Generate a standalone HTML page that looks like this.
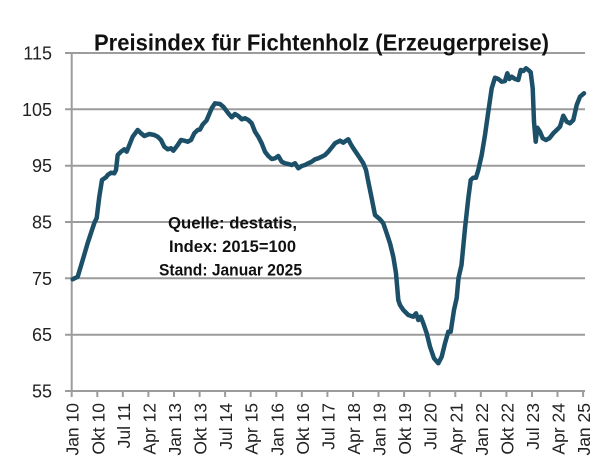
<!DOCTYPE html>
<html>
<head>
<meta charset="utf-8">
<style>
html,body{margin:0;padding:0;background:#fff;}
svg{display:block;}
text{font-family:"Liberation Sans",sans-serif;}
</style>
</head>
<body>
<svg width="604" height="466" viewBox="0 0 604 466" xmlns="http://www.w3.org/2000/svg">
<rect width="604" height="466" fill="#fff"/>
<!-- gridlines -->
<g stroke="#9c9c9c" stroke-width="2">
<line x1="65" y1="53" x2="585" y2="53"/>
<line x1="65" y1="109.3" x2="585" y2="109.3"/>
<line x1="65" y1="165.7" x2="585" y2="165.7"/>
<line x1="65" y1="222" x2="585" y2="222"/>
<line x1="65" y1="278.3" x2="585" y2="278.3"/>
<line x1="65" y1="334.7" x2="585" y2="334.7"/>
<line x1="65" y1="391" x2="585" y2="391"/>
<line x1="71.7" y1="53" x2="71.7" y2="397"/>
</g>
<!-- x ticks -->
<g stroke="#9c9c9c" stroke-width="2">
<line x1="97.3" y1="391" x2="97.3" y2="397"/>
<line x1="122.8" y1="391" x2="122.8" y2="397"/>
<line x1="148.4" y1="391" x2="148.4" y2="397"/>
<line x1="174" y1="391" x2="174" y2="397"/>
<line x1="199.6" y1="391" x2="199.6" y2="397"/>
<line x1="225.1" y1="391" x2="225.1" y2="397"/>
<line x1="250.7" y1="391" x2="250.7" y2="397"/>
<line x1="276.3" y1="391" x2="276.3" y2="397"/>
<line x1="301.8" y1="391" x2="301.8" y2="397"/>
<line x1="327.4" y1="391" x2="327.4" y2="397"/>
<line x1="353" y1="391" x2="353" y2="397"/>
<line x1="378.5" y1="391" x2="378.5" y2="397"/>
<line x1="404.1" y1="391" x2="404.1" y2="397"/>
<line x1="429.7" y1="391" x2="429.7" y2="397"/>
<line x1="455.3" y1="391" x2="455.3" y2="397"/>
<line x1="480.8" y1="391" x2="480.8" y2="397"/>
<line x1="506.4" y1="391" x2="506.4" y2="397"/>
<line x1="532" y1="391" x2="532" y2="397"/>
<line x1="557.5" y1="391" x2="557.5" y2="397"/>
<line x1="583.1" y1="391" x2="583.1" y2="397"/>
</g>
<!-- y labels -->
<g font-size="18" fill="#222" text-anchor="end">
<text x="52" y="59.5">115</text>
<text x="52" y="115.8">105</text>
<text x="52" y="172.2">95</text>
<text x="52" y="228.5">85</text>
<text x="52" y="284.8">75</text>
<text x="52" y="341.2">65</text>
<text x="52" y="397.5">55</text>
</g>
<!-- x labels -->
<g font-size="17.5" fill="#222" text-anchor="end">
<text transform="translate(78.7,403) rotate(-90)">Jan 10</text>
<text transform="translate(104.3,403) rotate(-90)">Okt 10</text>
<text transform="translate(129.8,403) rotate(-90)">Jul 11</text>
<text transform="translate(155.4,403) rotate(-90)">Apr 12</text>
<text transform="translate(181,403) rotate(-90)">Jan 13</text>
<text transform="translate(206.6,403) rotate(-90)">Okt 13</text>
<text transform="translate(232.1,403) rotate(-90)">Jul 14</text>
<text transform="translate(257.7,403) rotate(-90)">Apr 15</text>
<text transform="translate(283.3,403) rotate(-90)">Jan 16</text>
<text transform="translate(308.8,403) rotate(-90)">Okt 16</text>
<text transform="translate(334.4,403) rotate(-90)">Jul 17</text>
<text transform="translate(360,403) rotate(-90)">Apr 18</text>
<text transform="translate(385.5,403) rotate(-90)">Jan 19</text>
<text transform="translate(411.1,403) rotate(-90)">Okt 19</text>
<text transform="translate(436.7,403) rotate(-90)">Jul 20</text>
<text transform="translate(462.3,403) rotate(-90)">Apr 21</text>
<text transform="translate(487.8,403) rotate(-90)">Jan 22</text>
<text transform="translate(513.4,403) rotate(-90)">Okt 22</text>
<text transform="translate(539,403) rotate(-90)">Jul 23</text>
<text transform="translate(564.5,403) rotate(-90)">Apr 24</text>
<text transform="translate(590.1,403) rotate(-90)">Jan 25</text>
</g>
<!-- data line -->
<polyline fill="none" stroke="#1c5069" stroke-width="4.5" stroke-linejoin="round" stroke-linecap="round" points="
72.7,279.3 77.7,276.7 82.7,260 87.7,243 94.3,223 96.7,218 99.3,196.7 102,180 106,177.3 107.7,175 111,172.7 114.3,173.3 116,170 117.7,155 121,151.7 124.3,149.3 126.7,151.7 128.7,146.7 132.7,136.7 137.7,130 141,133.3 144.3,136 149.3,134 154.3,135 157.7,136.7 161,140 164.3,146.7 167.7,149.3 171,148.3 173.3,150.7 177.7,145 181,140 184.3,140.7 187.7,141.7 191,140 194.3,133.3 197.7,130 200,129.5 202.7,124.5 206.5,120.5 211.7,108.3 215,103.3 220,104 223.3,106.7 228.3,113.3 231.7,117.3 235,114 238.3,116 241.7,119.3 245,118.3 248.3,120 251.7,123.3 255,131.7 258.3,136.7 261.7,143.3 265,151.7 268.3,156 271.7,159 275,158.3 278.3,156 281.7,161.7 285,163.3 288.3,164 291.7,165 295,163.3 298.3,168.3 301.7,166 305,165 308.3,163.3 311.7,161.7 315,159.3 318.3,158.3 321.7,156.7 325,155 328.3,151.7 331.7,147.5 335,143.3 340,140.7 343.3,142.7 346,140.7 348.3,139.3 350.7,144 353.3,148.3 356.7,153.3 360,158.3 363.3,163.3 366,170 368.3,181.7 371.7,198.3 375,215 380,219.3 383.3,223.3 386.7,233.3 390,243.3 393.3,256.7 396,273.3 398.3,300 400,305 403.3,310 408.3,315 413.3,316.7 416,313.3 418.3,320 420.7,316.7 423.3,323.3 426.7,333.3 430,346.7 434,358.3 438.3,363.3 441.7,356.7 445,343.3 448.3,331.7 450.7,331.7 454,310 456.7,298 458.5,278 461.5,265 465,228.3 468.3,198.3 470.7,180 473.3,177.7 476,177.7 478.3,170 481.7,155 485,135 488.3,111.7 491.7,88.3 495,77.7 498.3,79 501.7,81.7 505,81 507.3,73.3 509.3,79 511.7,76.7 515,79 518.3,80 520.7,70 523.3,71 526,68.3 528.3,70 530.7,72.3 532.7,88.3 534,121.7 535.7,141.7 537.3,127.7 540,131.7 542.7,138.3 546,140 549.3,138.3 553.3,133.3 556.7,130 560,126.7 563.3,115.7 566.7,121.7 570,123.3 573.3,120 576.7,105 580,96.7 584,93.3"/>
<!-- title -->
<text x="94" y="50.5" font-size="23" font-weight="bold" fill="#111" textLength="455" lengthAdjust="spacingAndGlyphs">Preisindex für Fichtenholz  (Erzeugerpreise)</text>
<!-- annotation -->
<g font-size="16.5" font-weight="bold" fill="#111">
<text x="168" y="228.5" textLength="129" lengthAdjust="spacingAndGlyphs">Quelle: destatis,</text>
<text x="169" y="252" textLength="127" lengthAdjust="spacingAndGlyphs">Index: 2015=100</text>
<text x="159" y="275.5" textLength="143" lengthAdjust="spacingAndGlyphs">Stand: Januar 2025</text>
</g>
</svg>
</body>
</html>
